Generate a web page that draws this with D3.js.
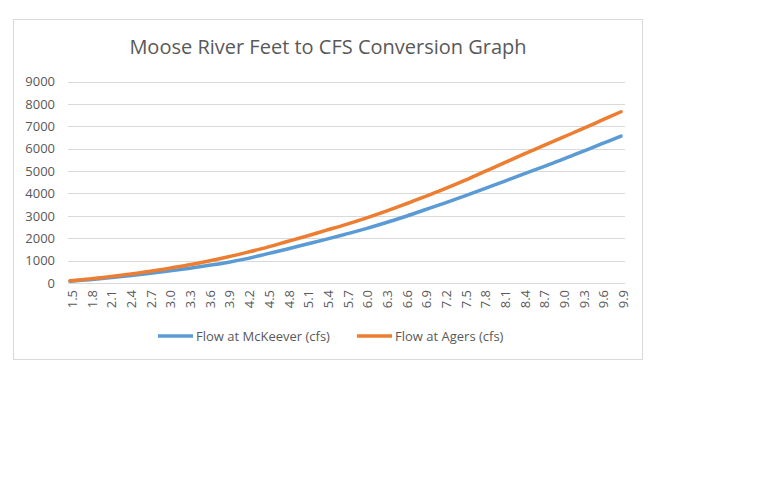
<!DOCTYPE html>
<html>
<head>
<meta charset="utf-8">
<script src="https://cdnjs.cloudflare.com/ajax/libs/d3/7.8.5/d3.min.js"></script>
<style>
  body { margin: 0; background: #fff; }
  text { font-family: "Open Sans", "Liberation Sans", sans-serif; fill: #595959; }
</style>
</head>
<body>
<svg id="canvas"></svg>
<script>
let stages = ["1.5","1.8","2.1","2.4","2.7","3.0","3.3","3.6","3.9","4.2","4.5","4.8","5.1","5.4","5.7",
  "6.0","6.3","6.6","6.9","7.2","7.5","7.8","8.1","8.4","8.7","9.0","9.3","9.6","9.9"];
let mckeever = [80,150,230,320,420,530,650,780,920,1090,1300,1510,1730,1950,2180,
  2420,2680,2960,3260,3560,3870,4190,4520,4850,5180,5510,5860,6210,6560];
let agers = [100,180,280,390,510,650,800,970,1160,1370,1590,1840,2090,2350,2610,
  2890,3190,3510,3850,4190,4560,4950,5340,5730,6110,6490,6870,7260,7650];
let yTicks = [0,1000,2000,3000,4000,5000,6000,7000,8000,9000];
let seriesNames = ["Flow at McKeever (cfs)", "Flow at Agers (cfs)"];
let colors = ["#5b9bd5", "#ed7d31"];

let width = 768;
let height = 480;

let canvas = d3.select("#canvas").attr("width", width).attr("height", height);

// chart area frame
canvas.append("rect")
  .attr("x", 13.5).attr("y", 19.5)
  .attr("width", 629).attr("height", 340)
  .attr("fill", "#fff").attr("stroke", "#d9d9d9");

canvas.append("text")
  .attr("x", 328).attr("y", 54)
  .attr("text-anchor", "middle")
  .style("font-size", "20px")
  .text("Moose River Feet to CFS Conversion Graph");

let xScale = d3.scalePoint().domain(stages).range([70, 621]);
let yScale = d3.scaleLinear().domain([0, 9000]).range([283, 81.5]);

// gridlines
canvas.append("g")
  .selectAll("line")
  .data(yTicks)
  .enter()
  .append("line")
  .attr("x1", 68).attr("x2", 625)
  .attr("y1", (d) => Math.round(yScale(d)) + 0.5)
  .attr("y2", (d) => Math.round(yScale(d)) + 0.5)
  .attr("stroke", "#d9d9d9")
  .attr("stroke-width", 1);

let yAxis = d3.axisLeft(yScale).tickValues(yTicks).tickFormat(d3.format("d")).tickSize(0).tickPadding(0);
let yG = canvas.append("g").attr("transform", "translate(55,0)").call(yAxis);
yG.select(".domain").remove();
yG.selectAll("text").style("font-size", "13px").attr("fill", "#595959");

let xAxis = d3.axisBottom(xScale).tickSize(0).tickPadding(0);
let xG = canvas.append("g").attr("transform", "translate(2,290)").call(xAxis);
xG.select(".domain").remove();
xG.selectAll("text")
  .style("font-size", "13px")
  .attr("fill", "#595959")
  .attr("text-anchor", "end")
  .attr("dy", "0.35em")
  .attr("x", 0).attr("y", 0)
  .attr("transform", "rotate(-90)");

let line = d3.line()
  .x((d, i) => xScale(stages[i]))
  .y((d) => yScale(d))
  .curve(d3.curveCatmullRom);

[mckeever, agers].forEach((series, k) => {
  canvas.append("path")
    .attr("d", line(series))
    .attr("fill", "none")
    .attr("stroke", colors[k])
    .attr("stroke-width", 3.5)
    .attr("stroke-linecap", "round");
});

// legend
let legendX = [158, 357];
seriesNames.forEach((name, k) => {
  canvas.append("line")
    .attr("x1", legendX[k]).attr("x2", legendX[k] + 35)
    .attr("y1", 336).attr("y2", 336)
    .attr("stroke", colors[k]).attr("stroke-width", 3.5);
  canvas.append("text")
    .attr("x", legendX[k] + 38).attr("y", 341)
    .style("font-size", "13px")
    .text(name);
});
</script>
</body>
</html>
